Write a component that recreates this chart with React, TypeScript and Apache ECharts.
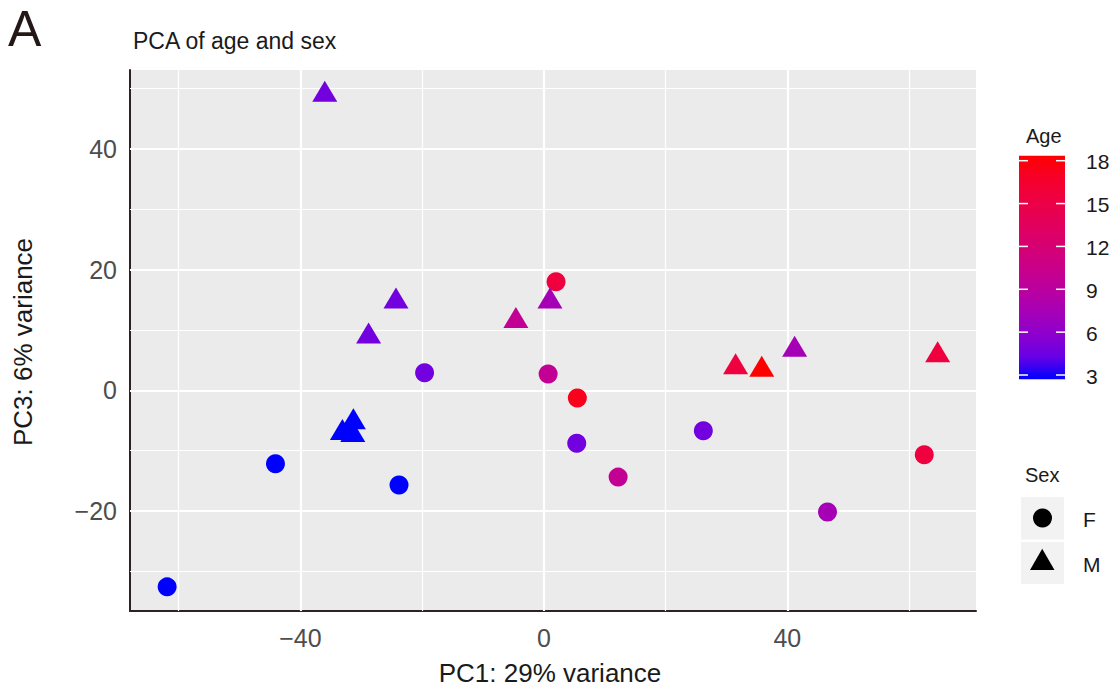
import React, { useEffect, useRef } from "react";
import * as echarts from "echarts";

// ---- data ----
const femalePC1 = [-61.9, -44.1, -23.8, -19.6, 2.0, 0.7, 5.5, 5.4, 12.2, 26.2, 46.6, 62.5];
const femalePC3 = [-32.6, -12.2, -15.7, 2.9, 18.0, 2.7, -1.3, -8.8, -14.4, -6.7, -20.2, -10.7];
const femaleAge = [2.7, 2.7, 2.7, 4.7, 15.6, 9.8, 17.3, 4.7, 9.8, 4.7, 7.4, 15.6];

const malePC1 = [-36.0, -24.3, -28.8, -31.3, -33.1, -31.4, -4.6, 1.0, 31.5, 35.8, 41.2, 64.7];
const malePC3 = [49.0, 14.7, 8.9, -5.3, -7.1, -7.4, 11.5, 14.7, 3.8, 3.4, 6.7, 5.8];
const maleAge = [4.7, 4.7, 4.7, 2.7, 2.7, 2.7, 9.8, 7.4, 15.6, 18.35, 7.4, 15.6];

const xRange = [-68, 71];
const yRange = [-36.6, 53.1];
const xTicks = [-40, 0, 40];
const xMinor = [-60, -20, 20, 60];
const yTicks = [-20, 0, 20, 40];
const yMinor = [-30, -10, 10, 30, 50];

const ageRange = [2.7, 18.35];
const ageTicks = [3, 6, 9, 12, 15, 18];
// blue -> red interpolated in Lab space (as ggplot scale_colour_gradient)
const ageColors = [
  "#0000FF", "#6800E6", "#8D00CE", "#A600B7", "#BA00A0", "#CA0089",
  "#D70072", "#E3005B", "#ED0044", "#F6002A", "#FF0000",
];
const sexLevels = ["F", "M"];

const FONT = "'Liberation Sans', Arial, Helvetica, sans-serif";

const fmt = (v: number) => (v < 0 ? "\u2212" + Math.abs(v) : String(v));

export default function App() {
  const ref = useRef<HTMLDivElement>(null);

  useEffect(() => {
    if (!ref.current) return;
    const chart = echarts.init(ref.current, null, { renderer: "svg" });

    const fData = femalePC1.map((x, i) => [x, femalePC3[i], femaleAge[i]]);
    const mData = malePC1.map((x, i) => [x, malePC3[i], maleAge[i]]);

    // colour bar geometry
    const barX = 1019;
    const barW = 46;
    const barTop = 155.7;
    const barBottom = 379.3;
    const ageToY = (v: number) =>
      barBottom - ((v - ageRange[0]) / (ageRange[1] - ageRange[0])) * (barBottom - barTop);

    const gradient = new echarts.graphic.LinearGradient(
      0, 1, 0, 0,
      ageColors.map((c, i) => ({ offset: i / (ageColors.length - 1), color: c }))
    );

    const graphics: any[] = [
      {
        type: "text", x: 8, y: 29,
        style: { text: "A", font: `50px ${FONT}`, fill: "#231815", align: "left", verticalAlign: "middle" },
      },
      {
        type: "text", x: 133, y: 41,
        style: { text: "PCA of age and sex", font: `23px ${FONT}`, fill: "#1A1A1A", align: "left", verticalAlign: "middle" },
      },
      {
        type: "text", x: 550, y: 673,
        style: { text: "PC1: 29% variance", font: `26px ${FONT}`, fill: "#1A1A1A", align: "center", verticalAlign: "middle" },
      },
      {
        type: "text", x: 23, y: 342, rotation: Math.PI / 2,
        style: { text: "PC3: 6% variance", font: `26px ${FONT}`, fill: "#1A1A1A", align: "center", verticalAlign: "middle" },
      },
      // Age colour bar
      {
        type: "text", x: 1026, y: 136,
        style: { text: "Age", font: `20px ${FONT}`, fill: "#1A1A1A", align: "left", verticalAlign: "middle" },
      },
      {
        type: "rect", shape: { x: barX, y: barTop, width: barW, height: barBottom - barTop },
        style: { fill: gradient },
      },
      ...ageTicks.flatMap((t) => {
        const y = ageToY(t);
        return [
          { type: "line", shape: { x1: barX, y1: y, x2: barX + 9, y2: y }, style: { stroke: "#FFFFFF", lineWidth: 1.5 } },
          { type: "line", shape: { x1: barX + barW - 9, y1: y, x2: barX + barW, y2: y }, style: { stroke: "#FFFFFF", lineWidth: 1.5 } },
          {
            type: "text", x: 1086, y: y + 1,
            style: { text: String(t), font: `21px ${FONT}`, fill: "#1A1A1A", align: "left", verticalAlign: "middle" },
          },
        ];
      }),
      // Sex legend
      {
        type: "text", x: 1025, y: 475,
        style: { text: "Sex", font: `20px ${FONT}`, fill: "#1A1A1A", align: "left", verticalAlign: "middle" },
      },
      { type: "rect", shape: { x: 1021, y: 497, width: 43, height: 42.5 }, style: { fill: "#F2F2F2" } },
      { type: "rect", shape: { x: 1021, y: 542, width: 43, height: 42 }, style: { fill: "#F2F2F2" } },
      { type: "circle", shape: { cx: 1042.5, cy: 518, r: 9.5 }, style: { fill: "#000000" } },
      {
        type: "polygon",
        shape: { points: [[1042.2, 548.7], [1054.5, 570], [1030, 570]] },
        style: { fill: "#000000" },
      },
      {
        type: "text", x: 1083, y: 519,
        style: { text: sexLevels[0], font: `21px ${FONT}`, fill: "#1A1A1A", align: "left", verticalAlign: "middle" },
      },
      {
        type: "text", x: 1083, y: 564,
        style: { text: sexLevels[1], font: `21px ${FONT}`, fill: "#1A1A1A", align: "left", verticalAlign: "middle" },
      },
    ];

    const axisCommon = {
      type: "value" as const,
      splitLine: { show: false },
      axisLine: { show: true, onZero: false, lineStyle: { color: "#2B2323", width: 2 } },
      axisTick: { show: true, inside: true, length: 5, lineStyle: { color: "#2B2323", width: 2 } },
      axisLabel: { color: "#4D4D4D", fontSize: 25, fontFamily: FONT, formatter: fmt },
    };

    const gridLines = [
      ...xMinor.map((v) => ({ xAxis: v, lineStyle: { color: "#FFFFFF", width: 1.2, type: "solid" } })),
      ...yMinor.map((v) => ({ yAxis: v, lineStyle: { color: "#FFFFFF", width: 1.2, type: "solid" } })),
      ...xTicks.map((v) => ({ xAxis: v, lineStyle: { color: "#FFFFFF", width: 2.2, type: "solid" } })),
      ...yTicks.map((v) => ({ yAxis: v, lineStyle: { color: "#FFFFFF", width: 2.2, type: "solid" } })),
    ];

    chart.setOption({
      animation: false,
      grid: {
        left: 130, top: 70, width: 846, height: 541,
        show: true, backgroundColor: "#EBEBEB", borderWidth: 0,
        outerBoundsMode: "none",
      },
      xAxis: {
        ...axisCommon,
        min: xRange[0], max: xRange[1],
        axisTick: { ...axisCommon.axisTick, customValues: xTicks },
        axisLabel: { ...axisCommon.axisLabel, customValues: xTicks, margin: 14 },
      },
      yAxis: {
        ...axisCommon,
        min: yRange[0], max: yRange[1],
        axisTick: { ...axisCommon.axisTick, customValues: yTicks },
        axisLabel: { ...axisCommon.axisLabel, customValues: yTicks, margin: 13 },
      },
      visualMap: {
        type: "continuous",
        show: false,
        dimension: 2,
        min: ageRange[0],
        max: ageRange[1],
        seriesIndex: [1, 2],
        inRange: { color: ageColors },
      },
      graphic: graphics,
      series: [
        {
          type: "scatter",
          data: [],
          silent: true,
          markLine: {
            silent: true,
            z: 1,
            symbol: ["none", "none"],
            label: { show: false },
            emphasis: { disabled: true },
            data: gridLines,
          },
        },
        {
          name: sexLevels[0],
          type: "scatter",
          z: 3,
          symbol: "circle",
          symbolSize: 19,
          itemStyle: { opacity: 1 },
          data: fData,
        },
        {
          name: sexLevels[1],
          type: "scatter",
          z: 3,
          symbol: "triangle",
          symbolSize: [25, 21],
          symbolOffset: [0, -3.5],
          itemStyle: { opacity: 1 },
          data: mData,
        },
      ],
    });

    return () => chart.dispose();
  }, []);

  return (
    <div
      ref={ref}
      style={{ position: "absolute", left: 0, top: 0, width: 1119, height: 693, background: "#FFFFFF" }}
    />
  );
}
